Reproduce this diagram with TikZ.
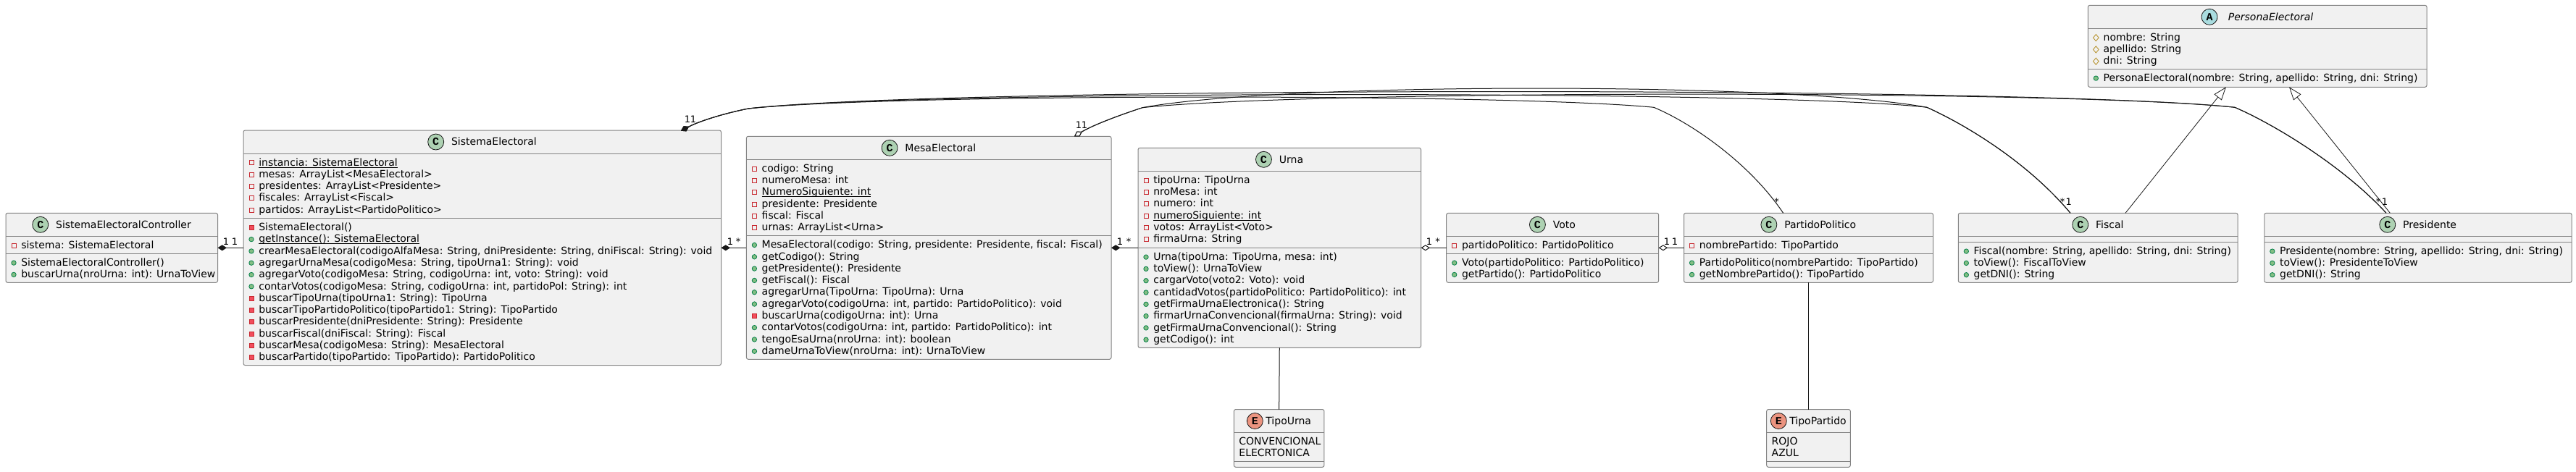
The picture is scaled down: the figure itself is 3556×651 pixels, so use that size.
\documentclass[tikz,border=0pt]{standalone}
\usepackage{fontspec}
\setmainfont{DejaVu Sans}
\newfontfamily\iconfont{Liberation Mono}
\usetikzlibrary{arrows.meta,calc,shapes.geometric}
\definecolor{edgec}{HTML}{181818}
\definecolor{borderc}{HTML}{848484}
\definecolor{boxfill}{HTML}{F1F1F1}
\definecolor{cfill}{HTML}{ADD1B2}
\definecolor{afill}{HTML}{A9DCDF}
\definecolor{efill}{HTML}{EB937F}
\definecolor{privc}{HTML}{C82930}
\definecolor{privf}{HTML}{F24D5C}
\definecolor{pubc}{HTML}{038048}
\definecolor{pubf}{HTML}{84BE84}
\definecolor{protc}{HTML}{B38D22}
\tikzset{
  umlbox/.style={draw=borderc,fill=boxfill,line width=1pt,rounded corners=2.5pt,inner sep=0pt,outer sep=0pt,anchor=north west},
  sepline/.style={draw=borderc,line width=1pt},
  rowtext/.style={anchor=base west,inner sep=0pt,outer sep=0pt,font=\fontsize{14}{16}\selectfont,text=black},
  hdrtext/.style={anchor=base,inner sep=0pt,outer sep=0pt,font=\fontsize{14}{16}\selectfont,text=black},
  hdrcirc/.style={circle,draw=edgec,line width=.8pt,minimum size=22pt,inner sep=0pt,outer sep=0pt,font=\fontsize{15}{16}\selectfont\iconfont\bfseries,text=black},
  fpriv/.style={rectangle,draw=privc,line width=.8pt,minimum size=6pt,inner sep=0pt},
  mpriv/.style={rectangle,draw=privc,fill=privf,line width=.8pt,minimum size=6pt,inner sep=0pt},
  mpub/.style={circle,draw=pubc,fill=pubf,line width=.8pt,minimum size=6.4pt,inner sep=0pt},
  fprot/.style={diamond,draw=protc,line width=.8pt,minimum width=8pt,minimum height=9.5pt,inner sep=0pt},
  link/.style={draw=edgec,line width=1pt},
  comp/.style={link,{Diamond[length=12.5pt,width=8pt,fill=edgec]}-},
  aggr/.style={link,{Diamond[length=12.5pt,width=8pt,fill=white]}-},
  inh/.style={link,line width=.8pt,-{Triangle[length=18pt,width=13pt,fill=white]}},
  mult/.style={anchor=base,inner sep=0pt,font=\fontsize{13}{15}\selectfont,text=black}
}
\newcount\rowk
\newcount\rowid
\newcommand{\underl}[1]{\setbox0\hbox{#1}\rlap{\rule[-2.4pt]{\wd0}{.9pt}}\box0}
\newcommand{\umlnode}[5]{% name x1 top x2 bottom
  \pgfmathsetmacro\bw{#4-#2}\pgfmathsetmacro\bh{#5-#3}
  \node[umlbox,minimum width=\bw pt,minimum height=\bh pt] (#1) at (#2,#3) {};}
\newcommand{\hsep}[3]{\draw[sepline] (#1.west |- 0,#3) -- (#1.east |- 0,#3);}
\newcommand{\hdr}[6]{% box letter fill name gap fontcmd
  \pgfmathsetmacro\shiftx{(22+#5)/2}
  \node[hdrtext] (#1-t) at ($(#1.north)+(\shiftx,20.7)$) {#6 #4};
  \node[hdrcirc,fill=#3] (#1-c) at ($(#1-t.base west)+({-#5-11},-4.7)$) {#2};}
\newcommand{\startrows}[2]{\gdef\rx{#1}\gdef\secttop{#2}\global\rowk=0 }
\newcommand{\rowitem}[2]{%
  \pgfmathsetmacro\yy{\secttop+17+16.3*\the\rowk}%
  \global\advance\rowid 1
  \node[rowtext] (rt\the\rowid) at (\rx+21.3,\yy) {#2};
  \node[#1] (ri\the\rowid) at (\rx+11,\yy-4.2) {};
  \global\advance\rowk 1 }
\newcommand{\plainrow}[1]{%
  \pgfmathsetmacro\yy{\secttop+17+16.3*\the\rowk}%
  \global\advance\rowid 1
  \node[rowtext] (rt\the\rowid) at (\rx+7,\yy) {#1};
  \global\advance\rowk 1 }
\begin{document}
\begin{tikzpicture}[x=1pt,y=-1pt]
\useasboundingbox (0,0) rectangle (3556,651);
\fill[white] (0,0) rectangle (3556,651);

% SistemaElectoralController
\umlnode{ctrl}{8}{294.3}{300.5}{390.3}
\hsep{ctrl}{8}{326.3}\hsep{ctrl}{8}{350.3}
\hdr{ctrl}{C}{cfill}{SistemaElectoralController}{10.4}{}
\startrows{8}{326.3}
\rowitem{fpriv}{sistema: SistemaElectoral}
\startrows{8}{350.3}
\rowitem{mpub}{SistemaElectoralController()}
\rowitem{mpub}{buscarUrna(nroUrna: int): UrnaToView}

% SistemaElectoral
\umlnode{se}{336}{180}{995.5}{504.6}
\hsep{se}{336}{212}\hsep{se}{336}{301.5}
\hdr{se}{C}{cfill}{SistemaElectoral}{10.4}{}
\startrows{336}{212}
\rowitem{fpriv}{\underl{instancia: SistemaElectoral}}
\rowitem{fpriv}{mesas: ArrayList<MesaElectoral>}
\rowitem{fpriv}{presidentes: ArrayList<Presidente>}
\rowitem{fpriv}{fiscales: ArrayList<Fiscal>}
\rowitem{fpriv}{partidos: ArrayList<PartidoPolitico>}
\startrows{336}{301.5}
\rowitem{mpriv}{SistemaElectoral()}
\rowitem{mpub}{\underl{getInstance(): SistemaElectoral}}
\rowitem{mpub}{crearMesaElectoral(codigoAlfaMesa: String, dniPresidente: String, dniFiscal: String): void}
\rowitem{mpub}{agregarUrnaMesa(codigoMesa: String, tipoUrna1: String): void}
\rowitem{mpub}{agregarVoto(codigoMesa: String, codigoUrna: int, voto: String): void}
\rowitem{mpub}{contarVotos(codigoMesa: String, codigoUrna: int, partidoPol: String): int}
\rowitem{mpriv}{buscarTipoUrna(tipoUrna1: String): TipoUrna}
\rowitem{mpriv}{buscarTipoPartidoPolitico(tipoPartido1: String): TipoPartido}
\rowitem{mpriv}{buscarPresidente(dniPresidente: String): Presidente}
\rowitem{mpriv}{buscarFiscal(dniFiscal: String): Fiscal}
\rowitem{mpriv}{buscarMesa(codigoMesa: String): MesaElectoral}
\rowitem{mpriv}{buscarPartido(tipoPartido: TipoPartido): PartidoPolitico}

% MesaElectoral
\umlnode{me}{1030.4}{188.3}{1534}{496.3}
\hsep{me}{1030.4}{220.3}\hsep{me}{1030.4}{325.7}
\hdr{me}{C}{cfill}{MesaElectoral}{10.4}{}
\startrows{1030.4}{220.3}
\rowitem{fpriv}{codigo: String}
\rowitem{fpriv}{numeroMesa: int}
\rowitem{fpriv}{\underl{NumeroSiguiente: int}}
\rowitem{fpriv}{presidente: Presidente}
\rowitem{fpriv}{fiscal: Fiscal}
\rowitem{fpriv}{urnas: ArrayList<Urna>}
\startrows{1030.4}{325.7}
\rowitem{mpub}{MesaElectoral(codigo: String, presidente: Presidente, fiscal: Fiscal)}
\rowitem{mpub}{getCodigo(): String}
\rowitem{mpub}{getPresidente(): Presidente}
\rowitem{mpub}{getFiscal(): Fiscal}
\rowitem{mpub}{agregarUrna(TipoUrna: TipoUrna): Urna}
\rowitem{mpub}{agregarVoto(codigoUrna: int, partido: PartidoPolitico): void}
\rowitem{mpriv}{buscarUrna(codigoUrna: int): Urna}
\rowitem{mpub}{contarVotos(codigoUrna: int, partido: PartidoPolitico): int}
\rowitem{mpub}{tengoEsaUrna(nroUrna: int): boolean}
\rowitem{mpub}{dameUrnaToView(nroUrna: int): UrnaToView}

% Urna
\umlnode{ur}{1571}{204.3}{1961.5}{480.3}
\hsep{ur}{1571}{236.3}\hsep{ur}{1571}{342.3}
\hdr{ur}{C}{cfill}{Urna}{10.4}{}
\startrows{1571}{236.3}
\rowitem{fpriv}{tipoUrna: TipoUrna}
\rowitem{fpriv}{nroMesa: int}
\rowitem{fpriv}{numero: int}
\rowitem{fpriv}{\underl{numeroSiguiente: int}}
\rowitem{fpriv}{votos: ArrayList<Voto>}
\rowitem{fpriv}{firmaUrna: String}
\startrows{1571}{342.3}
\rowitem{mpub}{Urna(tipoUrna: TipoUrna, mesa: int)}
\rowitem{mpub}{toView(): UrnaToView}
\rowitem{mpub}{cargarVoto(voto2: Voto): void}
\rowitem{mpub}{cantidadVotos(partidoPolitico: PartidoPolitico): int}
\rowitem{mpub}{getFirmaUrnaElectronica(): String}
\rowitem{mpub}{firmarUrnaConvencional(firmaUrna: String): void}
\rowitem{mpub}{getFirmaUrnaConvencional(): String}
\rowitem{mpub}{getCodigo(): int}

% Voto
\umlnode{vo}{1996.7}{294.3}{2289.6}{390.3}
\hsep{vo}{1996.7}{326.3}\hsep{vo}{1996.7}{350.3}
\hdr{vo}{C}{cfill}{Voto}{10.4}{}
\startrows{1996.7}{326.3}
\rowitem{fpriv}{partidoPolitico: PartidoPolitico}
\startrows{1996.7}{350.3}
\rowitem{mpub}{Voto(partidoPolitico: PartidoPolitico)}
\rowitem{mpub}{getPartido(): PartidoPolitico}

% PartidoPolitico
\umlnode{pp}{2324.5}{294.3}{2668.5}{390.3}
\hsep{pp}{2324.5}{326.3}\hsep{pp}{2324.5}{350.3}
\hdr{pp}{C}{cfill}{PartidoPolitico}{10.4}{}
\startrows{2324.5}{326.3}
\rowitem{fpriv}{nombrePartido: TipoPartido}
\startrows{2324.5}{350.3}
\rowitem{mpub}{PartidoPolitico(nombrePartido: TipoPartido)}
\rowitem{mpub}{getNombrePartido(): TipoPartido}

% Fiscal
\umlnode{fi}{2703.3}{294.3}{3089}{390.3}
\hsep{fi}{2703.3}{326.3}\hsep{fi}{2703.3}{334.3}
\hdr{fi}{C}{cfill}{Fiscal}{10.4}{}
\startrows{2703.3}{334.3}
\rowitem{mpub}{Fiscal(nombre: String, apellido: String, dni: String)}
\rowitem{mpub}{toView(): FiscalToView}
\rowitem{mpub}{getDNI(): String}

% Presidente
\umlnode{pr}{3125.8}{294.3}{3550}{390.3}
\hsep{pr}{3125.8}{326.3}\hsep{pr}{3125.8}{334.3}
\hdr{pr}{C}{cfill}{Presidente}{10.4}{}
\startrows{3125.8}{334.3}
\rowitem{mpub}{Presidente(nombre: String, apellido: String, dni: String)}
\rowitem{mpub}{toView(): PresidenteToView}
\rowitem{mpub}{getDNI(): String}

% PersonaElectoral
\umlnode{pe}{2882.3}{7.3}{3350}{120.3}
\hsep{pe}{2882.3}{39.3}\hsep{pe}{2882.3}{95.3}
\hdr{pe}{A}{afill}{PersonaElectoral}{10.4}{\itshape}
\startrows{2882.3}{39.3}
\rowitem{fprot}{nombre: String}
\rowitem{fprot}{apellido: String}
\rowitem{fprot}{dni: String}
\startrows{2882.3}{95.3}
\rowitem{mpub}{PersonaElectoral(nombre: String, apellido: String, dni: String)}

% TipoUrna
\umlnode{tu}{1703.4}{565.5}{1827.9}{645.3}
\hsep{tu}{1703.4}{597.3}\hsep{tu}{1703.4}{637.3}
\hdr{tu}{E}{efill}{TipoUrna}{4}{}
\startrows{1703.4}{597.3}
\plainrow{CONVENCIONAL}
\plainrow{ELECRTONICA}

% TipoPartido
\umlnode{tp}{2438.7}{565.5}{2554.3}{645.3}
\hsep{tp}{2438.7}{597.3}\hsep{tp}{2438.7}{637.3}
\hdr{tp}{E}{efill}{TipoPartido}{4}{}
\startrows{2438.7}{597.3}
\plainrow{ROJO}
\plainrow{AZUL}

% named free ends
\coordinate (seTop) at (940,180.7);
\coordinate (meTop) at (1483,188.3);
\coordinate (ppTop) at (2461.6,294.3);
\coordinate (fiTop) at (2858,294.3);
\coordinate (prTop) at (3294,294.3);
\coordinate (fiInh) at (2934,294.3);
\coordinate (prInh) at (3299.3,294.3);
\coordinate (peA) at (3072.8,120.3);
\coordinate (peB) at (3160,120.3);

% straight connectors
\draw[comp] (ctrl.east) -- (se.west);
\draw[comp] (se.east) -- (me.west);
\draw[comp] (me.east) -- (ur.west);
\draw[aggr] (ur.east) -- (vo.west);
\draw[aggr] (vo.east) -- (pp.west);
\draw[link] (ur.south) -- (tu.north);
\draw[link] (pp.south) -- (tp.north);

% long arcs from SistemaElectoral
\draw[comp] (seTop) .. controls (968,166) and (1005,155.5) .. (1033,150)
  .. controls (1233,129) and (2083,129) .. (2283,148.3)
  .. controls (2335,170) and (2415,225) .. (ppTop);
\draw[comp] (seTop) .. controls (968,166) and (1005,155.5) .. (1033,150)
  .. controls (1253,124.4) and (2460,124.4) .. (2660,148.3)
  .. controls (2715,173) and (2800,225) .. (fiTop);
\draw[comp] (seTop) .. controls (968,166) and (1005,155.5) .. (1033,150)
  .. controls (1300,119) and (2818,119) .. (3085,148.3)
  .. controls (3140,172) and (3235,230) .. (prTop);
% long arcs from MesaElectoral
\draw[aggr] (meTop) .. controls (1510,172) and (1550,157.5) .. (1577,148.7)
  .. controls (1767,113.2) and (2470,113.2) .. (2660,148.3)
  .. controls (2715,173) and (2800,225) .. (fiTop);
\draw[aggr] (meTop) .. controls (1510,172) and (1550,157.5) .. (1577,148.7)
  .. controls (1807,124) and (2855,124) .. (3085,148.3)
  .. controls (3140,172) and (3235,230) .. (prTop);

% inheritance
\draw[inh] (fiInh) -- (peA);
\draw[inh] (prInh) -- (peB);

% multiplicities
\node[mult] (m1) at (312,338.8) {1};
\node[mult] (m2) at (324,338.8) {1};
\node[mult] (m3) at (1008,338.8) {1};
\node[mult] (m4) at (1019,338.8) {*};
\node[mult] (m5) at (1546,338.8) {1};
\node[mult] (m6) at (1558,338.8) {*};
\node[mult] (m7) at (1973,338.8) {1};
\node[mult] (m8) at (1984.5,338.8) {*};
\node[mult] (m9) at (2301,338.8) {1};
\node[mult] (m10) at (2312,338.8) {1};
\node[mult] (m11) at (949,169.3) {1};
\node[mult] (m12) at (957,169.3) {1};
\node[mult] (m13) at (1489,177) {1};
\node[mult] (m14) at (1497,177) {1};
\node[mult] (m15) at (2452.5,283.3) {*};
\node[mult] (m16) at (2847.2,283.3) {*};
\node[mult] (m17) at (2855.8,283.3) {1};
\node[mult] (m18) at (3283,283.3) {*};
\node[mult] (m19) at (3292,283.3) {1};
\end{tikzpicture}
\end{document}
